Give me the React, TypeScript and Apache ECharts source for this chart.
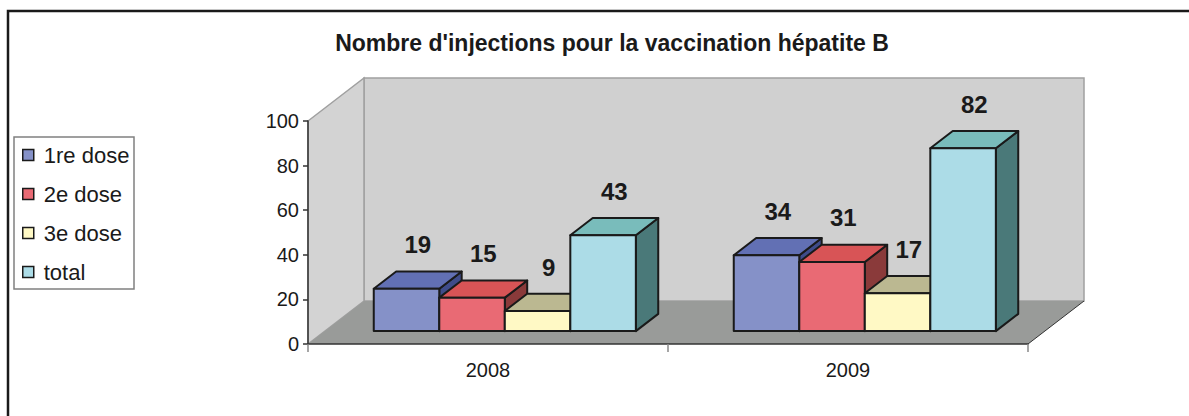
import React, { useEffect, useRef } from "react";
import * as echarts from "echarts";

const categories = ["2008", "2009"];
const seriesNames = ["1re dose", "2e dose", "3e dose", "total"];
const dose1 = [19, 34];
const dose2 = [15, 31];
const dose3 = [9, 17];
const total = [43, 82];
const yTicks = { min: 0, max: 100, interval: 20 };

const FONT = "'Liberation Sans', Arial, sans-serif";

// layout (pixels)
const GL = 308, GT = 121, GW = 720, GH = 223;
const DX = 56, DY = -43;
const BAR_FRAC = 0.182;

const palette = [
  { front: "#8591c8", top: "#6270b4", side: "#3f4c8a" },
  { front: "#e96a74", top: "#d85456", side: "#8a3a3a" },
  { front: "#fff9c5", top: "#bbb891", side: "#7f7b55" },
  { front: "#acdce7", top: "#79bcbb", side: "#4a7979" },
];

function makeSeries(name: string, values: number[], k: number) {
  const c = palette[k];
  return {
    type: "custom",
    name,
    coordinateSystem: "cartesian2d",
    itemStyle: { color: c.front },
    data: values.map((v, i) => [i, v]),
    renderItem: (params: any, api: any) => {
      const cat = api.value(0);
      const v = api.value(1);
      const base = api.coord([cat, 0]);
      const topP = api.coord([cat, v]);
      const band = api.size([1, 0])[0];
      const w = band * BAR_FRAC;
      const ox = DX * 0.3, oy = DY * 0.3;
      const ddx = DX * 0.4, ddy = DY * 0.4;
      const x0 = base[0] - 2 * w + k * w + ox;
      const yb = base[1] + oy;
      const yt = topP[1] + oy;
      const stroke = { stroke: "#1a1a1a", lineWidth: 2, lineJoin: "round" };
      return {
        type: "group",
        children: [
          {
            type: "polygon",
            shape: { points: [[x0 + w, yt], [x0 + w + ddx, yt + ddy], [x0 + w + ddx, yb + ddy], [x0 + w, yb]] },
            style: { fill: c.side, ...stroke },
          },
          {
            type: "polygon",
            shape: { points: [[x0, yt], [x0 + ddx, yt + ddy], [x0 + w + ddx, yt + ddy], [x0 + w, yt]] },
            style: { fill: c.top, ...stroke },
          },
          {
            type: "rect",
            shape: { x: x0, y: yt, width: w, height: yb - yt },
            style: { fill: c.front, ...stroke },
          },
          {
            type: "text",
            x: x0 + w / 2 + ddx / 2,
            y: yt - 44,
            style: {
              text: String(v),
              align: "center",
              verticalAlign: "middle",
              font: `bold 24px ${FONT}`,
              fill: "#1a1a1a",
            },
          },
        ],
      };
    },
  };
}

export default function App() {
  const ref = useRef<HTMLDivElement>(null);
  useEffect(() => {
    if (!ref.current) return;
    const chart = echarts.init(ref.current, undefined, { renderer: "svg" });
    const option: any = {
      animation: false,
      backgroundColor: "#ffffff",
      title: {
        text: "Nombre d'injections pour la vaccination hépatite B",
        left: 607,
        top: 26,
        textAlign: "center",
        textStyle: { fontFamily: FONT, fontSize: 23, fontWeight: "bold", color: "#1a1a1a" },
      },
      legend: {
        orient: "vertical",
        left: 22,
        top: 144,
        padding: 0,
        itemGap: 17,
        itemWidth: 11,
        itemHeight: 11,
        icon: "rect",
        itemStyle: { borderColor: "#1a1a1a", borderWidth: 1.5 },
        textStyle: { fontFamily: FONT, fontSize: 22, color: "#1a1a1a", lineHeight: 21, padding: [0, 0, 0, 5] },
        data: seriesNames,
      },
      graphic: [
        { type: "rect", z: -10, shape: { x: 8, y: 11, width: 1200, height: 420 }, style: { fill: "#fff", stroke: "#1a1a1a", lineWidth: 2.5 } },
        { type: "rect", z: -9, shape: { x: 14, y: 137, width: 120, height: 152 }, style: { fill: "#fff", stroke: "#808080", lineWidth: 1.5 } },
        { type: "rect", z: -8, shape: { x: GL + DX, y: GT + DY, width: GW, height: GH }, style: { fill: "#d0d0d0", stroke: "#a0a0a0", lineWidth: 1.5 } },
        {
          type: "polygon", z: -8,
          shape: { points: [[GL, GT], [GL + DX, GT + DY], [GL + DX, GT + GH + DY], [GL, GT + GH]] },
          style: { fill: "#d3d3d3", stroke: "#a0a0a0", lineWidth: 1.5 },
        },
        {
          type: "polygon", z: -7,
          shape: { points: [[GL, GT + GH], [GL + GW, GT + GH], [GL + GW + DX, GT + GH + DY], [GL + DX, GT + GH + DY]] },
          style: { fill: "#999b99", stroke: "none" },
        },
        {
          type: "line", z: -6,
          shape: { x1: GL + GW, y1: GT + GH, x2: GL + GW + DX, y2: GT + GH + DY },
          style: { stroke: "#333", lineWidth: 1 },
        },
      ],
      grid: { left: GL, top: GT, width: GW, height: GH, containLabel: false },
      xAxis: {
        type: "category",
        data: categories,
        z: 5,
        axisLine: { lineStyle: { color: "#333", width: 1.5 } },
        axisTick: { show: true, length: 8, lineStyle: { color: "#888", width: 1.5 } },
        axisLabel: { fontFamily: FONT, fontSize: 20, color: "#1a1a1a", margin: 16 },
        splitLine: { show: false },
      },
      yAxis: {
        type: "value",
        min: yTicks.min,
        max: yTicks.max,
        interval: yTicks.interval,
        z: 5,
        axisLine: { show: true, lineStyle: { color: "#333", width: 1.5 } },
        axisTick: { show: true, length: 5, lineStyle: { color: "#333", width: 1.5 } },
        axisLabel: { fontFamily: FONT, fontSize: 20, color: "#1a1a1a", margin: 9 },
        splitLine: { show: false },
      },
      series: [
        makeSeries(seriesNames[0], dose1, 0),
        makeSeries(seriesNames[1], dose2, 1),
        makeSeries(seriesNames[2], dose3, 2),
        makeSeries(seriesNames[3], total, 3),
      ],
    };
    chart.setOption(option);
    return () => chart.dispose();
  }, []);
  return (
    <div
      ref={ref}
      style={{ position: "fixed", left: 0, top: 0, width: 1189, height: 416 }}
    />
  );
}
